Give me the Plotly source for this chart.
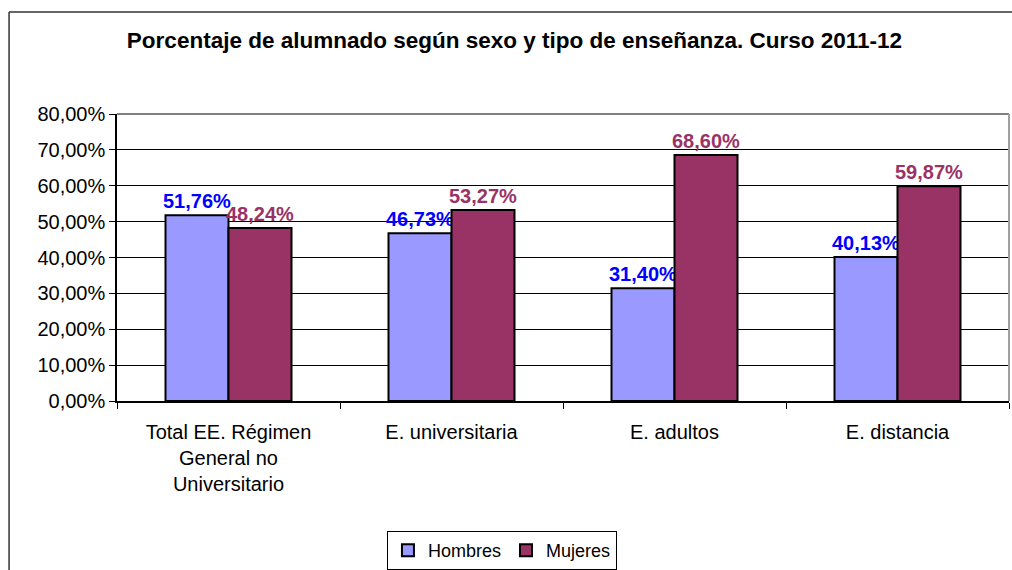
import plotly.graph_objects as go

categorias = ["Total EE. Régimen<br>General no<br>Universitario", "E. universitaria",
              "E. adultos", "E. distancia"]
hombres = [51.76, 46.73, 31.40, 40.13]
mujeres = [48.24, 53.27, 68.60, 59.87]
y_ticks = [0, 10, 20, 30, 40, 50, 60, 70, 80]

FONT = "Liberation Sans, Arial, sans-serif"


def etiqueta(v):
    return f"{v:.2f}%".replace(".", ",")


fig = go.Figure()
fig.add_trace(go.Bar(
    name="Hombres", x=categorias, y=hombres,
    marker=dict(color="#9999FF", line=dict(color="black", width=2)),
    text=[etiqueta(v) for v in hombres], textposition="outside",
    textfont=dict(color="#0000FF", size=20, family=FONT, weight="bold"),
    cliponaxis=False,
))
fig.add_trace(go.Bar(
    name="Mujeres", x=categorias, y=mujeres,
    marker=dict(color="#993366", line=dict(color="black", width=2)),
    text=[etiqueta(v) for v in mujeres], textposition="outside",
    textfont=dict(color="#993366", size=20, family=FONT, weight="bold"),
    cliponaxis=False,
))

fig.update_layout(
    width=1012, height=570,
    margin=dict(l=117, r=3, t=114, b=169, autoexpand=False),
    paper_bgcolor="white", plot_bgcolor="white",
    font=dict(family=FONT, size=20, color="black"),
    barmode="group", bargap=0.435, bargroupgap=0,
    title=dict(text="<b>Porcentaje de alumnado según sexo y tipo de enseñanza. Curso 2011-12</b>",
               x=0.5084, xanchor="center", y=0.93, yanchor="middle",
               font=dict(size=22.5, family=FONT, color="black")),
    legend=dict(orientation="h", x=0.496, xref="container", xanchor="center",
                y=0.0, yref="container", yanchor="bottom",
                bordercolor="black", borderwidth=1,
                font=dict(size=18, family=FONT), itemwidth=30, traceorder="normal"),
    uniformtext=dict(minsize=20, mode="show"),
)

fig.update_yaxes(
    range=[0, 80], tickvals=y_ticks,
    ticktext=[f"{t:.2f}%".replace(".", ",") for t in y_ticks],
    showgrid=True, gridcolor="black", gridwidth=1,
    showline=True, linecolor="black", linewidth=1.5,
    ticks="outside", ticklen=6, tickcolor="black",
    tickfont=dict(size=20), zeroline=False, automargin=False,
)
fig.update_xaxes(
    showline=True, linecolor="black", linewidth=1.5,
    ticks="outside", tickson="boundaries", ticklen=6, tickcolor="black",
    tickfont=dict(size=20), ticklabelstandoff=12, automargin=False,
)

# borde gris del area de trazado (arriba y derecha)
fig.add_shape(type="line", xref="paper", yref="paper", x0=0, x1=1, y0=1, y1=1,
              line=dict(color="#808080", width=2))
fig.add_shape(type="line", xref="paper", yref="paper", x0=1, x1=1, y0=0, y1=1,
              line=dict(color="#A0A0A0", width=2))
# marco exterior del grafico (solo izquierda y arriba, el resto queda fuera)
fig.add_shape(type="line", xref="paper", yref="paper", x0=-0.121, x1=-0.121, y0=-1, y1=1.355,
              line=dict(color="#333333", width=1.5), layer="below")
fig.add_shape(type="line", xref="paper", yref="paper", x0=-0.121, x1=1.2, y0=1.355, y1=1.355,
              line=dict(color="#333333", width=1.5), layer="below")

# quitar el margen del body para que la figura ocupe la ventana sin barras de scroll
fig.write_html("out.html", config={"displayModeBar": False},
               post_script="document.body.style.margin='0';document.body.style.overflow='hidden';")
